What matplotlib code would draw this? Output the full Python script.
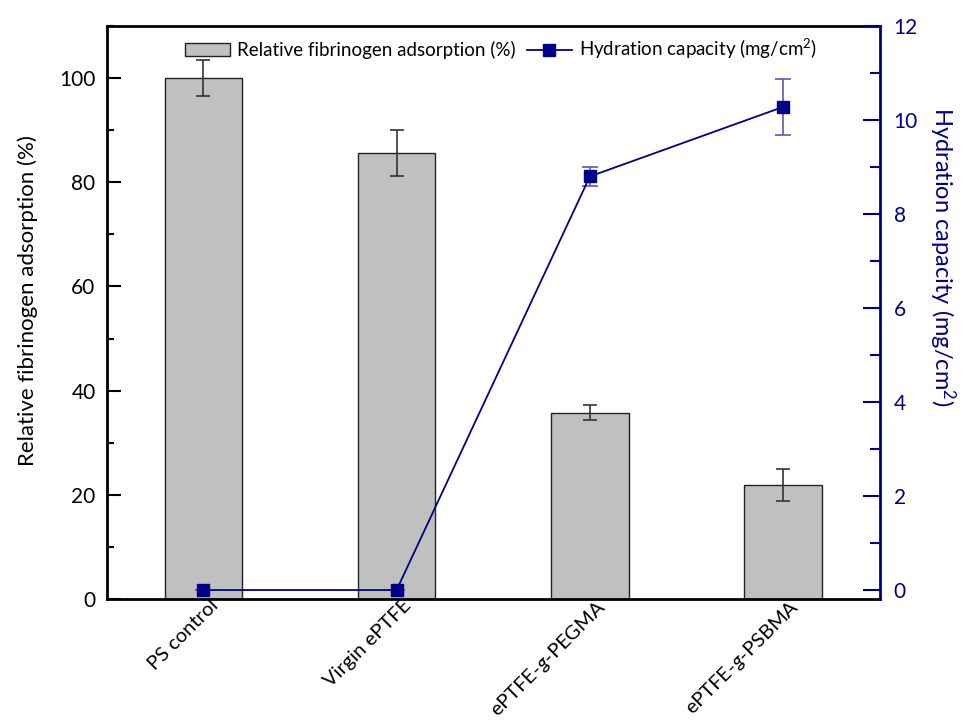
import matplotlib
matplotlib.use("Agg")
import matplotlib.pyplot as plt
from matplotlib.ticker import MultipleLocator
import matplotlib.transforms as mtransforms

plt.rcParams['font.family'] = ['Lato', 'DejaVu Sans']
plt.rcParams['mathtext.fontset'] = 'custom'
plt.rcParams['mathtext.rm'] = 'Lato'
plt.rcParams['mathtext.it'] = 'Lato:italic'

categories = ['PS control', 'Virgin ePTFE', r'ePTFE-$\mathit{g}$-PEGMA', r'ePTFE-$\mathit{g}$-PSBMA']
fib_values = [100.0, 85.7, 35.8, 21.9]
fib_errors = [3.5, 4.4, 1.5, 3.0]
hyd_values = [0.0, 0.0, 8.8, 10.28]
hyd_errors = [0.0, 0.0, 0.2, 0.6]

navy = '#00008B'

fig = plt.figure(figsize=(9.70, 7.24), dpi=100)
ax = fig.add_axes([0.110, 0.1727, 0.797, 0.7913])
x = list(range(len(categories)))

bars = ax.bar(x, fib_values, width=0.4, color='#c0c0c0', edgecolor='#222222', linewidth=1.0,
              label='Relative fibrinogen adsorption (%)', zorder=2)
ax.errorbar(x, fib_values, yerr=fib_errors, fmt='none', ecolor='#333333', elinewidth=1.2,
            capsize=5, capthick=1.2, zorder=3)

ax.set_xlim(-0.5, 3.5)
ax.set_ylim(0, 110)
ax.yaxis.set_major_locator(MultipleLocator(20))
ax.yaxis.set_minor_locator(MultipleLocator(10))
ax.tick_params(axis='y', which='major', direction='in', length=10, width=1.5, labelsize=15, pad=8)
ax.tick_params(axis='y', which='minor', direction='in', length=5, width=1.5)
ax.tick_params(axis='x', length=0, labelsize=14.5, pad=1)
ax.set_xticks(x)
ax.set_xticklabels(categories, rotation=45, ha='right', rotation_mode='anchor')
for lbl in ax.get_xticklabels():
    lbl.set_transform(lbl.get_transform() + mtransforms.ScaledTranslation(0.06, 0.04, fig.dpi_scale_trans))
ax.set_ylabel('Relative fibrinogen adsorption (%)', fontsize=16)
ax.yaxis.set_label_coords(-0.089, 0.52)
for s in ['left', 'bottom', 'top']:
    ax.spines[s].set_linewidth(2)
ax.spines['right'].set_visible(False)

ax2 = ax.twinx()
ax2.set_ylim(-0.19, 12)
ax2.errorbar(x, hyd_values, yerr=hyd_errors, fmt='none', ecolor='#5a5aaa', elinewidth=1.2,
             capsize=6, capthick=1.2, zorder=3)
line, = ax2.plot(x, hyd_values, '-s', color=navy, markersize=8, linewidth=1.3,
                 label='Hydration capacity (mg/cm$^2$)', zorder=4)
ax2.yaxis.set_major_locator(MultipleLocator(2))
ax2.yaxis.set_minor_locator(MultipleLocator(1))
ax2.tick_params(axis='y', which='major', direction='in', length=12, width=1.5, colors=navy, labelsize=15, pad=10)
ax2.tick_params(axis='y', which='minor', direction='in', length=7, width=1.5, colors=navy)
ax2.spines['right'].set_color(navy)
ax2.spines['right'].set_linewidth(2)
for s in ['left', 'bottom', 'top']:
    ax2.spines[s].set_visible(False)
ax2.set_ylabel('Hydration capacity (mg/cm$^2$)', fontsize=17, color=navy, rotation=270)
ax2.yaxis.set_label_coords(1.10, 0.598)

ax.legend([bars, line], ['Relative fibrinogen adsorption (%)', 'Hydration capacity (mg/cm$^2$)'],
          loc='upper center', bbox_to_anchor=(0.51, 1.01), ncol=2, frameon=False, fontsize=13.5,
          handlelength=2.4, handletextpad=0.4, columnspacing=0.6)

fig.savefig('out.png', dpi=100)
